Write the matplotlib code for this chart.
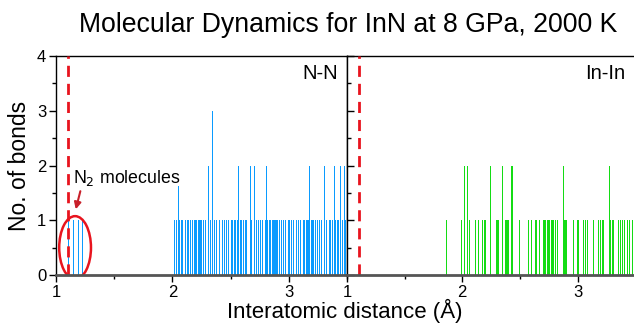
import matplotlib
matplotlib.use("Agg")
import matplotlib.pyplot as plt
from matplotlib.patches import Ellipse
from matplotlib.ticker import MultipleLocator

plt.rcParams['font.family'] = ['Liberation Sans', 'DejaVu Sans']

# ---- data (interatomic distance in Å, number of bonds) ----
nn_pos = [1.105, 1.15, 1.185, 1.225,
          2.017, 2.032, 2.049, 2.060, 2.075, 2.083, 2.106, 2.124, 2.135, 2.149,
          2.172, 2.184, 2.195, 2.207, 2.218, 2.227, 2.236, 2.247, 2.262, 2.279,
          2.305, 2.322, 2.340, 2.356, 2.371, 2.399, 2.422, 2.443, 2.460, 2.480,
          2.500, 2.514, 2.526, 2.540, 2.552, 2.566, 2.581, 2.589, 2.609, 2.621,
          2.632, 2.667, 2.675, 2.697, 2.721, 2.736, 2.753, 2.770, 2.793, 2.805,
          2.816, 2.828, 2.839, 2.854, 2.862, 2.874, 2.882, 2.891, 2.902, 2.917,
          2.937, 2.948, 2.968, 2.989, 3.003, 3.017, 3.040, 3.058, 3.075, 3.098,
          3.118, 3.132, 3.144, 3.155, 3.164, 3.175, 3.187, 3.198, 3.210, 3.221,
          3.241, 3.262, 3.276, 3.299, 3.322, 3.342, 3.353, 3.368, 3.385, 3.397,
          3.411, 3.420, 3.443, 3.457, 3.471, 3.486, 3.497]
nn_cnt = [1, 1, 1, 1,
          1, 1, 1.63, 1, 1, 1, 1, 1, 1, 1,
          1, 1, 1, 1, 1, 1, 1, 1, 1, 1,
          2, 1, 3, 1, 1, 1, 1, 1, 1, 1,
          1, 1, 1, 1, 1, 2, 1, 1, 1, 1,
          1, 2, 1, 2, 1, 1, 1, 1, 1, 2,
          1, 1, 1, 1, 1, 1, 1, 1, 1, 1,
          1, 1, 1, 1, 1, 1, 1, 1, 1, 1,
          1, 1, 1, 1, 1, 2, 1, 1, 1, 1,
          1, 1, 1, 2, 1, 1, 1, 1, 2, 1,
          1, 1, 2, 1, 2, 1, 2]

inin_pos = [1.856, 1.986, 2.012, 2.038, 2.055, 2.110, 2.133, 2.174, 2.185, 2.197,
            2.240, 2.289, 2.298, 2.307, 2.341, 2.370, 2.382, 2.391, 2.399, 2.422,
            2.431, 2.495, 2.573, 2.593, 2.631, 2.639, 2.668, 2.697, 2.709, 2.720,
            2.732, 2.743, 2.755, 2.766, 2.778, 2.790, 2.804, 2.819, 2.870, 2.879,
            2.891, 2.902, 2.963, 2.992, 3.006, 3.044, 3.061, 3.079, 3.131, 3.180,
            3.194, 3.209, 3.223, 3.270, 3.281, 3.296, 3.310, 3.353, 3.368, 3.385,
            3.403, 3.426, 3.449, 3.475]
inin_cnt = [1, 1, 2, 2, 1, 1, 1, 1, 1, 1,
            2, 1, 1, 1, 2, 1, 1, 1, 1, 2,
            2, 1, 1, 1, 1, 1, 1, 1, 1, 1,
            1, 1, 1, 1, 1, 1, 1, 1, 2, 1,
            1, 1, 1, 1, 1, 1, 1, 1, 1, 1,
            1, 1, 1, 2, 1, 1, 1, 1, 1, 1,
            1, 1, 1, 1]

x_ticks = [1, 2, 3]
y_ticks = [0, 1, 2, 3, 4]
cut_off = 1.1
title = "Molecular Dynamics for InN at 8 GPa, 2000 K"

# ---- figure ----
W, H = 634, 327
fig = plt.figure(figsize=(W / 100, H / 100), dpi=100)
bot = (H - 275) / H
hgt = (275 - 56) / H
ax1 = fig.add_axes([56 / W, bot, 291 / W, hgt])
ax2 = fig.add_axes([347 / W, bot, (W - 347) / W, hgt])

blue = '#0A9BFF'
green = '#14DC14'
red = '#E8141E'

ax1.vlines(nn_pos, 0, nn_cnt, colors=blue, lw=0.65, antialiased=False)
ax2.vlines(inin_pos, 0, inin_cnt, colors=green, lw=0.65, antialiased=False)

for ax in (ax1, ax2):
    ax.set_ylim(0, 4)
    ax.axvline(cut_off, color=red, lw=2, ls=(0, (4, 2.5)), zorder=3)
    ax.set_xticks(x_ticks)
    ax.xaxis.set_minor_locator(MultipleLocator(0.5))
    ax.yaxis.set_minor_locator(MultipleLocator(0.5))
    ax.tick_params(axis='x', which='major', direction='out', length=5, width=1,
                   labelsize=12, pad=2)
    ax.tick_params(axis='x', which='minor', direction='out', length=3, width=1)
    ax.spines['bottom'].set_color('#555555')
    ax.spines['bottom'].set_linewidth(2)
    ax.spines['bottom'].set_zorder(4)
    ax.spines['top'].set_linewidth(1)
    ax.spines['left'].set_linewidth(1)

ax1.set_xlim(1, 3.5)
ax2.set_xlim(1, 1 + (W - 347) / 115.3)

ax1.set_yticks(y_ticks)
ax1.tick_params(axis='y', which='major', direction='out', length=5, width=1,
                labelsize=12, pad=2)
ax1.tick_params(axis='y', which='minor', direction='out', length=3, width=1)
ax1.spines['right'].set_linewidth(1)

ax2.set_yticks(y_ticks)
ax2.tick_params(axis='y', which='major', direction='in', length=5, width=1,
                labelleft=False)
ax2.tick_params(axis='y', which='minor', direction='in', length=3, width=1)
ax2.spines['right'].set_visible(False)

ax1.set_ylabel("No. of bonds", fontsize=16.5, labelpad=4)
fig.text(345 / W, (H - 311) / H, "Interatomic distance (Å)", fontsize=16,
         ha='center', va='center')
fig.text(348 / W, (H - 25) / H, title, fontsize=19.2, ha='center', va='center')

ax1.text(0.97, 0.92, "N-N", transform=ax1.transAxes, ha='right', va='center',
         fontsize=14.5)
ax2.text(0.97, 0.92, "In-In", transform=ax2.transAxes, ha='right', va='center',
         fontsize=14.5)

# N2 molecules annotation
ax1.add_patch(Ellipse((1.164, 0.50), 0.273, 1.15, fill=False, edgecolor=red,
                      lw=1.8, zorder=4))
ax1.annotate("", xy=(1.164, 1.15), xytext=(1.215, 1.58),
             arrowprops=dict(arrowstyle='-|>', color='#C8202A', lw=1.5,
                             mutation_scale=10))
ax1.text(1.145, 1.77, "N$_2$ molecules", fontsize=12.8, ha='left', va='center')

fig.savefig("out.png", dpi=100)
